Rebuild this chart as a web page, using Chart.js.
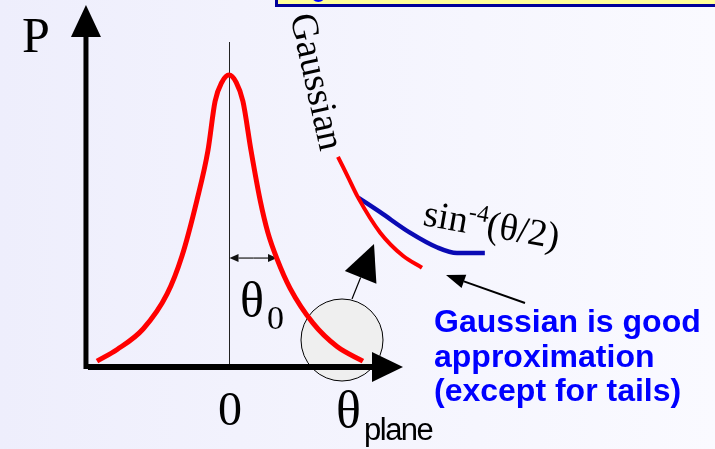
<!DOCTYPE html>
<html>
<head>
<meta charset="utf-8">
<title>Multiple scattering angle distribution</title>
<script src="https://cdn.jsdelivr.net/npm/chart.js@4.4.1/dist/chart.umd.min.js"></script>
<style>
  html, body { margin: 0; padding: 0; background: #f4f4fe; }
  canvas { display: block; }
</style>
</head>
<body>
<canvas id="scatter" width="715" height="449"></canvas>
<script>
// projected angle (units of theta0) and probability
const gaussTheta = [-2.75, -2.33, -1.79, -1.29, -0.98, -0.67, -0.44, -0.29, -0.15, 0, 0.15, 0.29, 0.46, 0.65, 0.81, 1.0, 1.27, 1.75, 2.25, 2.79];
const gaussP     = [0.02, 0.06, 0.13, 0.25, 0.38, 0.57, 0.74, 0.91, 0.975, 1.0, 0.975, 0.91, 0.74, 0.57, 0.46, 0.37, 0.27, 0.15, 0.07, 0.02];

// tail close-up: gaussian vs single scattering
const tailTheta = [2.27, 2.48, 2.69, 3.15, 3.63, 4.02];
const tailP     = [0.72, 0.65, 0.58, 0.46, 0.38, 0.34];
const rutherTheta = [2.69, 3.15, 3.77, 4.33, 4.75, 5.33];
const rutherP     = [0.58, 0.53, 0.46, 0.41, 0.39, 0.39];

const theta0 = 1.0;
const axisTheta = -2.98;

function pts(xs, ys) {
    return xs.map((x, i) => ({x: x, y: ys[i]}));
}

function arrow(ctx, x1, y1, x2, y2, len, half) {
    let a = Math.atan2(y2 - y1, x2 - x1);
    let bx = x2 - len * Math.cos(a), by = y2 - len * Math.sin(a);
    ctx.beginPath();
    ctx.moveTo(x1, y1);
    ctx.lineTo(bx, by);
    ctx.stroke();
    ctx.beginPath();
    ctx.moveTo(x2, y2);
    ctx.lineTo(bx + half * Math.sin(a), by - half * Math.cos(a));
    ctx.lineTo(bx - half * Math.sin(a), by + half * Math.cos(a));
    ctx.closePath();
    ctx.fill();
}

const sketch = {
    id: 'sketch',
    beforeDraw(chart) {
        let ctx = chart.ctx;
        let g = ctx.createLinearGradient(0, 0, chart.width, 0);
        g.addColorStop(0, '#eeeefc');
        g.addColorStop(1, '#fafaff');
        ctx.save();
        ctx.fillStyle = g;
        ctx.fillRect(0, 0, chart.width, chart.height);
        // title box running off the top
        ctx.fillStyle = '#ffff99';
        ctx.fillRect(276, -10, 450, 15);
        ctx.strokeStyle = '#000099';
        ctx.lineWidth = 3;
        ctx.strokeRect(276.5, -10, 450, 15.5);
        ctx.fillStyle = '#0000ff';
        ctx.font = 'bold 24px "Liberation Sans"';
        ctx.fillText('o', 311, 2);
        ctx.restore();
    },
    beforeDatasetsDraw(chart) {
        let ctx = chart.ctx;
        let sx = chart.scales.x, sy = chart.scales.y;
        let x0 = Math.round(sx.getPixelForValue(0)) + 0.5;
        let xAxis = sx.getPixelForValue(axisTheta);
        let yAxis = sy.getPixelForValue(0);
        ctx.save();

        // scattered particle
        ctx.fillStyle = '#efefef';
        ctx.strokeStyle = '#000';
        ctx.lineWidth = 1;
        ctx.beginPath();
        ctx.arc(342, 340, 41, 0, Math.PI * 2);
        ctx.fill();
        ctx.stroke();
        ctx.fillStyle = '#000';
        ctx.lineWidth = 1.2;
        arrow(ctx, 352, 299, 374, 244, 36, 17);

        // theta = 0 line and theta0 width marker
        ctx.strokeStyle = '#222';
        ctx.lineWidth = 1;
        ctx.beginPath();
        ctx.moveTo(x0, 42);
        ctx.lineTo(x0, yAxis);
        ctx.stroke();
        let wy = sy.getPixelForValue(0.373);
        let wx = sx.getPixelForValue(theta0);
        ctx.strokeStyle = '#444';
        ctx.fillStyle = '#111';
        ctx.lineWidth = 1.5;
        arrow(ctx, (x0 + wx) / 2, wy, wx, wy, 9, 4);
        arrow(ctx, (x0 + wx) / 2, wy, x0, wy, 9, 4);

        // axes
        ctx.strokeStyle = '#000';
        ctx.fillStyle = '#000';
        ctx.lineWidth = 5;
        arrow(ctx, xAxis, yAxis + 2, xAxis, 5, 32, 15);
        ctx.lineWidth = 6;
        arrow(ctx, xAxis + 2, yAxis, 403, yAxis, 31, 15);
        ctx.restore();
    },
    afterDatasetsDraw(chart) {
        let ctx = chart.ctx;
        ctx.save();
        ctx.fillStyle = '#000';
        ctx.textBaseline = 'alphabetic';

        ctx.font = '50px "Liberation Serif"';
        ctx.fillText('P', 22, 52);
        ctx.font = '48px "Liberation Serif"';
        ctx.textAlign = 'center';
        ctx.fillText('0', 230, 425);
        ctx.textAlign = 'left';

        ctx.font = '50px "Liberation Serif"';
        ctx.fillText('θ', 240, 317);
        ctx.font = '34px "Liberation Serif"';
        ctx.fillText('0', 267, 329);

        ctx.font = '52px "Liberation Serif"';
        ctx.fillText('θ', 336, 427);
        ctx.font = '31px "Liberation Sans"';
        ctx.letterSpacing = '-1.5px';
        ctx.fillText('plane', 364, 440);
        ctx.letterSpacing = '0px';

        // curve labels
        ctx.save();
        ctx.translate(315, 82);
        ctx.rotate(77.5 * Math.PI / 180);
        ctx.font = '38px "Liberation Serif"';
        ctx.textAlign = 'center';
        ctx.textBaseline = 'middle';
        ctx.fillText('Gaussian', 0, 0);
        ctx.restore();

        ctx.save();
        ctx.translate(422, 225);
        ctx.rotate(10 * Math.PI / 180);
        ctx.font = '38px "Liberation Serif"';
        ctx.fillText('sin', 0, 0);
        let w = ctx.measureText('sin').width;
        ctx.font = '24px "Liberation Serif"';
        ctx.fillText('-4', w, -14);
        w += ctx.measureText('-4').width;
        ctx.font = '38px "Liberation Serif"';
        ctx.fillText('(θ/2)', w, 0);
        ctx.restore();

        // note with pointer to the tails
        ctx.lineWidth = 2;
        arrow(ctx, 525, 303, 446, 275, 19, 7);
        ctx.fillStyle = '#0000ff';
        ctx.font = 'bold 32px "Liberation Sans"';
        ctx.fillText('Gaussian is good', 434, 332);
        ctx.fillText('approximation', 434, 367);
        ctx.fillText('(except for tails)', 434, 401);
        ctx.restore();
    }
};

new Chart(document.getElementById('scatter'), {
    type: 'line',
    data: {
        datasets: [
            {data: pts(gaussTheta, gaussP), borderColor: '#ff0000', borderWidth: 5},
            {data: pts(tailTheta, tailP), borderColor: '#ff0000', borderWidth: 4},
            {data: pts(rutherTheta, rutherP), borderColor: '#0a0ab4', borderWidth: 4.5}
        ]
    },
    options: {
        responsive: false,
        devicePixelRatio: 1,
        animation: false,
        layout: {padding: 0},
        elements: {
            point: {radius: 0},
            line: {cubicInterpolationMode: 'monotone', fill: false, borderCapStyle: 'butt'}
        },
        scales: {
            x: {type: 'linear', display: false, min: -4.771, max: 10.125},
            y: {type: 'linear', display: false, min: -0.281, max: 1.257}
        },
        plugins: {legend: {display: false}, tooltip: {enabled: false}}
    },
    plugins: [sketch]
});
</script>
</body>
</html>
